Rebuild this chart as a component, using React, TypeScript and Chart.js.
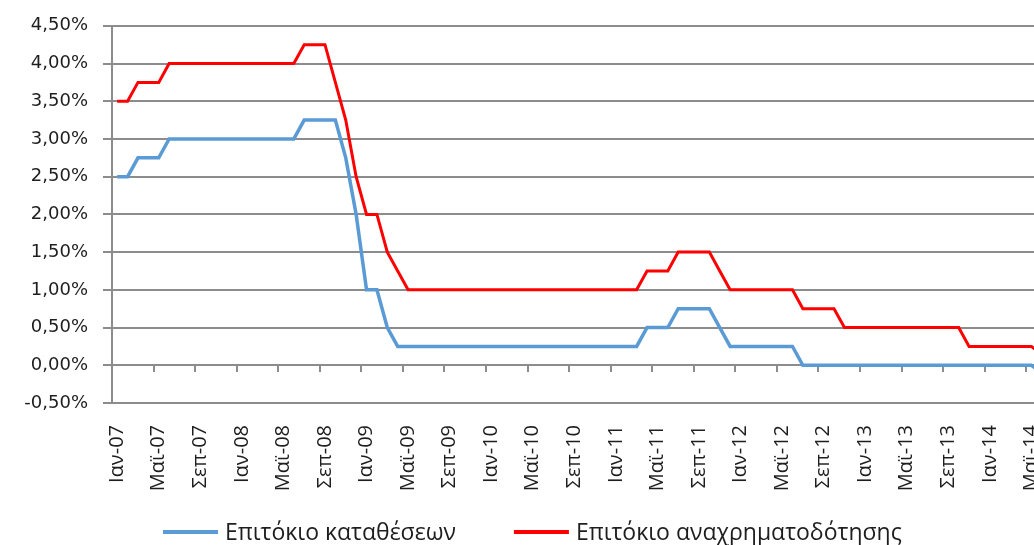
import React, { useEffect, useRef } from "react";
import { Chart, registerables } from "chart.js";

Chart.register(...registerables);

// ---- data ----
const MONTHS = ["Ιαν", "Φεβ", "Μαρ", "Απρ", "Μαϊ", "Ιουν", "Ιουλ", "Αυγ", "Σεπ", "Οκτ", "Νοε", "Δεκ"];
const YEARS = ["07", "08", "09", "10", "11", "12", "13", "14"];
const N_MONTHS = 90; // Ιαν-07 ... Ιουν-14
const CATEGORIES: string[] = YEARS.flatMap((y) => MONTHS.map((m) => `${m}-${y}`)).slice(0, N_MONTHS);
const LABEL_EVERY = 4;

const DEPOSIT_LABEL = "Επιτόκιο καταθέσεων";
const REFI_LABEL = "Επιτόκιο αναχρηματοδότησης";

// 2007
const DEPOSIT_2007 = [2.5, 2.5, 2.75, 2.75, 2.75, 3.0, 3.0, 3.0, 3.0, 3.0, 3.0, 3.0];
const REFI_2007 = [3.5, 3.5, 3.75, 3.75, 3.75, 4.0, 4.0, 4.0, 4.0, 4.0, 4.0, 4.0];
// 2008
const DEPOSIT_2008 = [3.0, 3.0, 3.0, 3.0, 3.0, 3.0, 3.25, 3.25, 3.25, 3.25, 2.75, 2.0];
const REFI_2008 = [4.0, 4.0, 4.0, 4.0, 4.0, 4.0, 4.25, 4.25, 4.25, 3.75, 3.25, 2.5];
// 2009
const DEPOSIT_2009 = [1.0, 1.0, 0.5, 0.25, 0.25, 0.25, 0.25, 0.25, 0.25, 0.25, 0.25, 0.25];
const REFI_2009 = [2.0, 2.0, 1.5, 1.25, 1.0, 1.0, 1.0, 1.0, 1.0, 1.0, 1.0, 1.0];
// 2010
const DEPOSIT_2010 = [0.25, 0.25, 0.25, 0.25, 0.25, 0.25, 0.25, 0.25, 0.25, 0.25, 0.25, 0.25];
const REFI_2010 = [1.0, 1.0, 1.0, 1.0, 1.0, 1.0, 1.0, 1.0, 1.0, 1.0, 1.0, 1.0];
// 2011
const DEPOSIT_2011 = [0.25, 0.25, 0.25, 0.5, 0.5, 0.5, 0.75, 0.75, 0.75, 0.75, 0.5, 0.25];
const REFI_2011 = [1.0, 1.0, 1.0, 1.25, 1.25, 1.25, 1.5, 1.5, 1.5, 1.5, 1.25, 1.0];
// 2012
const DEPOSIT_2012 = [0.25, 0.25, 0.25, 0.25, 0.25, 0.25, 0.0, 0.0, 0.0, 0.0, 0.0, 0.0];
const REFI_2012 = [1.0, 1.0, 1.0, 1.0, 1.0, 1.0, 0.75, 0.75, 0.75, 0.75, 0.5, 0.5];
// 2013
const DEPOSIT_2013 = [0.0, 0.0, 0.0, 0.0, 0.0, 0.0, 0.0, 0.0, 0.0, 0.0, 0.0, 0.0];
const REFI_2013 = [0.5, 0.5, 0.5, 0.5, 0.5, 0.5, 0.5, 0.5, 0.5, 0.5, 0.25, 0.25];
// 2014 (Jan - Jun)
const DEPOSIT_2014 = [0.0, 0.0, 0.0, 0.0, 0.0, -0.1];
const REFI_2014 = [0.25, 0.25, 0.25, 0.25, 0.25, 0.15];

const DEPOSIT = [
  ...DEPOSIT_2007, ...DEPOSIT_2008, ...DEPOSIT_2009, ...DEPOSIT_2010,
  ...DEPOSIT_2011, ...DEPOSIT_2012, ...DEPOSIT_2013, ...DEPOSIT_2014,
];
const REFI = [
  ...REFI_2007, ...REFI_2008, ...REFI_2009, ...REFI_2010,
  ...REFI_2011, ...REFI_2012, ...REFI_2013, ...REFI_2014,
];

const Y_MIN = -0.5;
const Y_MAX = 4.5;
const Y_STEP = 0.5;

// ---- styles ----
const BLUE = "#5B9BD5";
const RED = "#FF0000";
const GRID = "#8C8C8C";
const TEXT = "#1E1E1E";
const CANVAS_W = 1050;
const CANVAS_H = 545;

const fmtPct = (v: number) => (Math.round(v * 100) / 100).toFixed(2).replace(".", ",") + "%";

const zeroTicksPlugin = {
  id: "zeroTicks",
  beforeDatasetsDraw(chart: any) {
    const { ctx } = chart;
    const xs = chart.scales.x;
    const ys = chart.scales.y;
    const y0 = Math.round(ys.getPixelForValue(0));
    ctx.save();
    ctx.strokeStyle = GRID;
    ctx.lineWidth = 2;
    for (let i = LABEL_EVERY; i < CATEGORIES.length; i += LABEL_EVERY) {
      const px = Math.round((xs.getPixelForValue(i - 1) + xs.getPixelForValue(i)) / 2);
      ctx.beginPath();
      ctx.moveTo(px, y0);
      ctx.lineTo(px, y0 + 7);
      ctx.stroke();
    }
    ctx.restore();
  },
};

const legendPlugin = {
  id: "bottomLegend",
  afterDraw(chart: any) {
    const { ctx } = chart;
    ctx.save();
    ctx.font = '23px "Open Sans"';
    ctx.textBaseline = "middle";
    ctx.textAlign = "left";
    let x = 163;
    const y = 532;
    chart.data.datasets.forEach((ds: any) => {
      ctx.strokeStyle = ds.borderColor;
      ctx.lineWidth = 4;
      ctx.beginPath();
      ctx.moveTo(x, y);
      ctx.lineTo(x + 55, y);
      ctx.stroke();
      ctx.fillStyle = TEXT;
      ctx.fillText(ds.label, x + 62, y + 1);
      x += 62 + ctx.measureText(ds.label).width + 58;
    });
    ctx.restore();
  },
};

export default function App() {
  const canvasRef = useRef<HTMLCanvasElement | null>(null);

  useEffect(() => {
    let chart: Chart | null = null;
    let cancelled = false;
    const make = () => {
      if (cancelled || !canvasRef.current) return;
      chart = new Chart(canvasRef.current, {
        type: "line",
        data: {
          labels: CATEGORIES,
          datasets: [
            {
              label: DEPOSIT_LABEL,
              data: DEPOSIT,
              borderColor: BLUE,
              backgroundColor: BLUE,
              borderWidth: 3.5,
              pointRadius: 0,
              tension: 0,
            },
            {
              label: REFI_LABEL,
              data: REFI,
              borderColor: RED,
              backgroundColor: RED,
              borderWidth: 3,
              pointRadius: 0,
              tension: 0,
            },
          ],
        },
        options: {
          responsive: false,
          animation: false,
          devicePixelRatio: 1,
          layout: { padding: { top: 17, right: 3, bottom: 0, left: 0 }, autoPadding: false },
          plugins: {
            legend: { display: false },
            tooltip: { enabled: false },
            title: { display: false },
          },
          scales: {
            x: {
              type: "category",
              offset: true,
              grid: { display: false, drawTicks: false },
              border: { display: false },
              ticks: {
                autoSkip: false,
                maxRotation: 90,
                minRotation: 90,
                padding: 22,
                color: TEXT,
                font: { family: '"Open Sans"', size: 20 },
                callback: (_v: any, i: number) => (i % LABEL_EVERY === 0 ? CATEGORIES[i] : ""),
              },
              afterFit: (s: any) => {
                s.height = 142;
                s.paddingLeft = 0;
                s.paddingRight = 0;
              },
            },
            y: {
              min: Y_MIN,
              max: Y_MAX,
              grid: { color: GRID, lineWidth: 2, tickLength: 9, drawTicks: true },
              border: { display: true, color: GRID, width: 2 },
              ticks: {
                stepSize: Y_STEP,
                padding: 15,
                color: TEXT,
                font: { family: '"DejaVu Sans"', size: 18 },
                callback: (v: any) => fmtPct(Number(v)),
              },
              afterFit: (s: any) => {
                s.width = 112;
              },
            },
          },
        },
        plugins: [zeroTicksPlugin, legendPlugin],
      });
    };
    const fontsReady = (document as any).fonts
      ? Promise.all([
          (document as any).fonts.load('20px "Open Sans"'),
          (document as any).fonts.load('20px "DejaVu Sans"'),
        ]).catch(() => null)
      : Promise.resolve(null);
    fontsReady.then(make);
    return () => {
      cancelled = true;
      if (chart) chart.destroy();
    };
  }, []);

  return (
    <div
      style={{
        position: "fixed",
        left: 0,
        top: 0,
        width: 1034,
        height: 545,
        overflow: "hidden",
        background: "#ffffff",
      }}
    >
      <canvas ref={canvasRef} width={CANVAS_W} height={CANVAS_H} style={{ display: "block" }} />
    </div>
  );
}
